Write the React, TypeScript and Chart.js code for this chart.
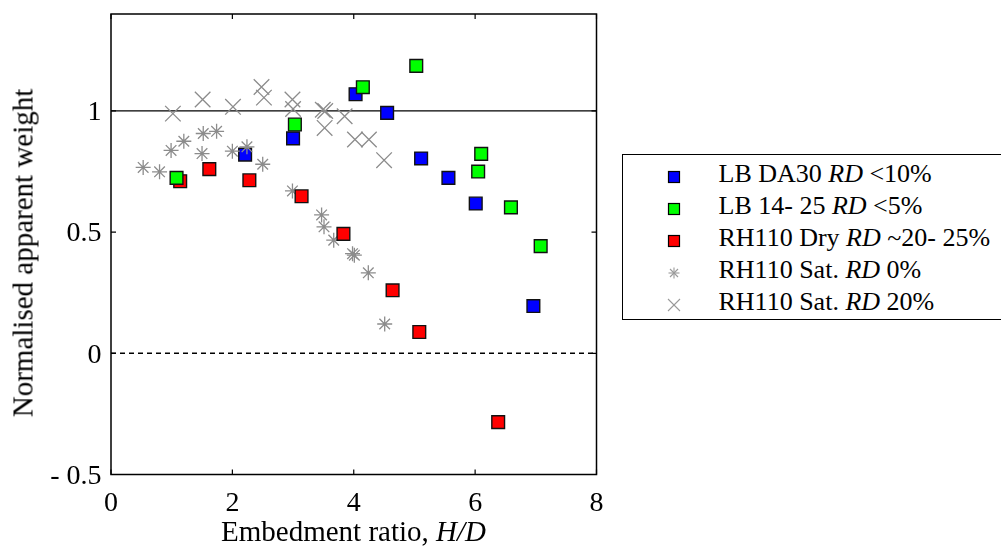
import React, { useEffect, useRef } from 'react';
import { Chart, registerables } from 'chart.js';

Chart.register(...registerables);

const FONT = '"Liberation Serif", "DejaVu Serif", serif';

// ---- data ----
const xTicks = [0, 2, 4, 6, 8];
const xTickLabels = ['0', '2', '4', '6', '8'];
const yTicks = [-0.5, 0, 0.5, 1];
const yTickLabels = ['- 0.5', '0', '0.5', '1'];

const blueX = [2.21, 3.0, 4.03, 4.55, 5.11, 5.56, 6.01, 6.96];
const blueY = [0.82, 0.887, 1.069, 0.992, 0.804, 0.724, 0.618, 0.195];

const greenX = [1.08, 3.03, 4.15, 5.03, 6.1, 6.05, 6.59, 7.08];
const greenY = [0.724, 0.944, 1.098, 1.186, 0.823, 0.75, 0.602, 0.442];

const redX = [1.14, 1.62, 2.28, 3.14, 3.83, 4.64, 5.08, 6.38];
const redY = [0.71, 0.76, 0.714, 0.648, 0.493, 0.26, 0.088, -0.284];

const sat0X = [0.53, 0.8, 0.99, 1.2, 1.5, 1.52, 1.74, 2.0, 2.24, 2.5, 2.99, 3.47, 3.51, 3.67, 3.98, 4.01, 4.24, 4.51];
const sat0Y = [0.767, 0.749, 0.837, 0.875, 0.824, 0.907, 0.916, 0.834, 0.852, 0.78, 0.67, 0.571, 0.522, 0.467, 0.411, 0.405, 0.332, 0.121];

const sat20X = [1.02, 1.51, 2.01, 2.48, 2.52, 2.99, 3.0, 3.49, 3.53, 3.52, 3.85, 4.02, 4.25, 4.5];
const sat20Y = [0.989, 1.047, 1.017, 1.099, 1.055, 1.047, 1.008, 1.005, 1.0, 0.93, 0.978, 0.882, 0.882, 0.797];

const refSolidY = 1;
const refDashedY = 0;
const xRange = [0, 8];
const yRange = [-0.5, 1.4];

const seriesNames = [
  ['LB DA30 ', 'RD', ' <10%'],
  ['LB 14- 25 ', 'RD', ' <5%'],
  ['RH110 Dry ', 'RD', ' ~20- 25%'],
  ['RH110 Sat. ', 'RD', ' 0%'],
  ['RH110 Sat. ', 'RD', ' 20%'],
];
const seriesColors = ['#0000ff', '#00ff00', '#ff0000', '#8c8c8c', '#8c8c8c'];
const seriesMarkers = ['square', 'square', 'square', 'star', 'x'];

const xTitle = 'Embedment ratio, ';
const xTitleItalic = 'H/D';
const yTitle = 'Normalised apparent weight';

const pts = (xs: number[], ys: number[]) => xs.map((x, i) => ({ x, y: ys[i] }));

const framePlugin = {
  id: 'frame',
  afterDatasetsDraw(chart: any) {
    const { ctx, chartArea, scales } = chart;
    const { left, right, top, bottom } = chartArea;
    ctx.save();
    ctx.strokeStyle = '#000';
    ctx.lineWidth = 1.5;
    ctx.strokeRect(left, top, right - left, bottom - top);
    ctx.lineWidth = 1.2;
    const tl = 5;
    ctx.beginPath();
    xTicks.forEach((v) => {
      const p = scales.x.getPixelForValue(v);
      ctx.moveTo(p, bottom);
      ctx.lineTo(p, bottom - tl);
      ctx.moveTo(p, top);
      ctx.lineTo(p, top + tl);
    });
    yTicks.forEach((v) => {
      const p = scales.y.getPixelForValue(v);
      ctx.moveTo(left, p);
      ctx.lineTo(left + tl, p);
      ctx.moveTo(right, p);
      ctx.lineTo(right - tl, p);
    });
    ctx.stroke();
    ctx.restore();
  },
};

function LegendMarker({ kind, color }: { kind: string; color: string }) {
  if (kind === 'square') {
    return (
      <svg width={14} height={14} style={{ position: 'absolute', left: -7, top: -7 }}>
        <rect x={1.5} y={1.5} width={11} height={11} fill={color} stroke="#000" strokeWidth={1.2} />
      </svg>
    );
  }
  if (kind === 'star') {
    return (
      <svg width={14} height={14} style={{ position: 'absolute', left: -7, top: -7 }}>
        <g stroke="#9a9a9a" strokeWidth={1.1}>
          <line x1={1.5} y1={7} x2={12.5} y2={7} />
          <line x1={7} y1={1.5} x2={7} y2={12.5} />
          <line x1={3} y1={3} x2={11} y2={11} />
          <line x1={11} y1={3} x2={3} y2={11} />
        </g>
      </svg>
    );
  }
  return (
    <svg width={16} height={16} style={{ position: 'absolute', left: -8, top: -8 }}>
      <g stroke="#9a9a9a" strokeWidth={1.1}>
        <line x1={2} y1={2} x2={14} y2={14} />
        <line x1={14} y1={2} x2={2} y2={14} />
      </g>
    </svg>
  );
}

export default function App() {
  const canvasRef = useRef<HTMLCanvasElement | null>(null);

  useEffect(() => {
    const canvas = canvasRef.current;
    if (!canvas) return;
    let chart: any = null;
    let cancelled = false;
    Chart.defaults.font.family = FONT;
    Chart.defaults.font.size = 28;
    Chart.defaults.color = '#000';

    const sq = (color: string, order: number, xs: number[], ys: number[], label: string) => ({
      label,
      data: pts(xs, ys),
      pointStyle: 'rect',
      pointRadius: 9,
      pointHoverRadius: 9,
      backgroundColor: color,
      borderColor: '#111',
      borderWidth: 1.4,
      order,
    });

    const tickFont = { size: 28, family: FONT, style: 'normal', weight: 'normal', lineHeight: 1.2 };

    const build = () => {
      if (cancelled) return;
      chart = new Chart(canvas, {
        type: 'scatter',
        data: {
          datasets: [
            {
              type: 'line',
              label: 'ref1',
              data: [{ x: xRange[0], y: refSolidY }, { x: xRange[1], y: refSolidY }],
              borderColor: '#000',
              borderWidth: 1.3,
              pointRadius: 0,
              order: 10,
            } as any,
            {
              type: 'line',
              label: 'ref0',
              data: [{ x: xRange[0], y: refDashedY }, { x: xRange[1], y: refDashedY }],
              borderColor: '#000',
              borderWidth: 1.6,
              borderDash: [5, 4],
              pointRadius: 0,
              order: 10,
            } as any,
            sq(seriesColors[0], 6, blueX, blueY, seriesNames[0].join('')),
            sq(seriesColors[1], 1, greenX, greenY, seriesNames[1].join('')),
            sq(seriesColors[2], 4, redX, redY, seriesNames[2].join('')),
            {
              label: seriesNames[3].join(''),
              data: pts(sat0X, sat0Y),
              pointStyle: 'star',
              pointRadius: 7.5,
              pointHoverRadius: 7.5,
              borderColor: seriesColors[3],
              backgroundColor: seriesColors[3],
              borderWidth: 1.3,
              order: 5,
            },
            {
              label: seriesNames[4].join(''),
              data: pts(sat20X, sat20Y),
              pointStyle: 'crossRot',
              pointRadius: 11,
              pointHoverRadius: 11,
              borderColor: seriesColors[4],
              backgroundColor: seriesColors[4],
              borderWidth: 1.3,
              order: 2,
            },
          ],
        },
        options: {
          responsive: false,
          animation: false,
          devicePixelRatio: 1,
          font: { family: FONT, size: 28 },
          layout: { padding: { left: 0, top: 14, right: 404.5, bottom: 0 } },
          plugins: { legend: { display: false }, tooltip: { enabled: false } },
          scales: {
            x: {
              type: 'linear',
              min: xRange[0],
              max: xRange[1],
              grid: { display: false, drawTicks: false },
              border: { display: false },
              afterBuildTicks: (scale: any) => {
                scale.ticks = xTicks.map((v) => ({ value: v }));
              },
              afterFit: (scale: any) => {
                scale.height = 72.5;
                scale.paddingLeft = 0;
                scale.paddingRight = 0;
              },
              ticks: {
                padding: 12.5,
                color: '#000',
                font: tickFont,
                maxRotation: 0,
                callback: (v: any) => xTickLabels[xTicks.indexOf(Number(v))] ?? '',
              },
            },
            y: {
              type: 'linear',
              min: yRange[0],
              max: yRange[1],
              grid: { display: false, drawTicks: false },
              border: { display: false },
              afterBuildTicks: (scale: any) => {
                scale.ticks = yTicks.map((v) => ({ value: v }));
              },
              afterFit: (scale: any) => {
                scale.width = 111;
                scale.paddingTop = 0;
                scale.paddingBottom = 0;
              },
              ticks: {
                padding: 9.5,
                labelOffset: 2,
                color: '#000',
                font: tickFont,
                callback: (v: any) => yTickLabels[yTicks.indexOf(Number(v))] ?? '',
              },
            },
          },
        },
        plugins: [framePlugin],
      } as any);
    };

    const fonts: any = (document as any).fonts;
    if (fonts && fonts.load) {
      Promise.all([
        fonts.load('28px "Liberation Serif"'),
        fonts.load('italic 28px "Liberation Serif"'),
      ])
        .catch(() => null)
        .then(() => build());
    } else {
      build();
    }

    return () => {
      cancelled = true;
      if (chart) chart.destroy();
    };
  }, []);

  const rowTop0 = 3.1;
  const rowStep = 31.85;

  return (
    <div
      style={{
        position: 'fixed',
        left: 0,
        top: 0,
        width: 1001,
        height: 547,
        background: '#fff',
        overflow: 'hidden',
        fontFamily: FONT,
        color: '#000',
      }}
    >
      <canvas ref={canvasRef} width={1001} height={547} style={{ position: 'absolute', left: 0, top: 0 }} />
      <div
        style={{
          position: 'absolute',
          left: 23.2,
          top: 252.5,
          transform: 'translate(-50%, -50%) rotate(-90deg)',
          fontSize: 29,
          lineHeight: '29px',
          whiteSpace: 'nowrap',
        }}
      >
        {yTitle}
      </div>
      <div
        style={{
          position: 'absolute',
          left: 353.5,
          top: 517.4,
          transform: 'translateX(-50%)',
          fontSize: 29,
          lineHeight: '29px',
          whiteSpace: 'nowrap',
        }}
      >
        {xTitle}
        <i>{xTitleItalic}</i>
      </div>
      <div
        style={{
          position: 'absolute',
          left: 622,
          top: 154,
          width: 420,
          height: 166,
          border: '1.5px solid #000',
          boxSizing: 'border-box',
          background: '#fff',
        }}
      >
        {seriesNames.map((n, i) => (
          <div key={i}>
            <div style={{ position: 'absolute', left: 50.5, top: rowTop0 + i * rowStep + 19.2 }}>
              <LegendMarker kind={seriesMarkers[i]} color={seriesColors[i]} />
            </div>
            <div
              style={{
                position: 'absolute',
                left: 95.5,
                top: rowTop0 + i * rowStep,
                fontSize: 26,
                lineHeight: '31.8px',
                whiteSpace: 'nowrap',
              }}
            >
              {n[0]}
              <i>{n[1]}</i>
              {n[2]}
            </div>
          </div>
        ))}
      </div>
    </div>
  );
}
